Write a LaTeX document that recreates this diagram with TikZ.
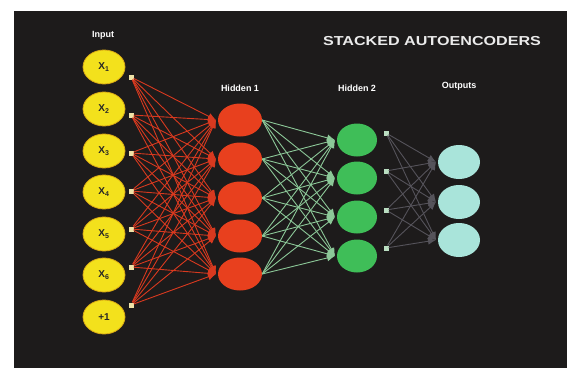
\documentclass[tikz,border=0pt]{standalone}
\usepackage{fontspec}
\setmainfont{Liberation Sans}
\usetikzlibrary{arrows.meta,shapes.geometric}
\definecolor{bg}{HTML}{1D1B1B}
\definecolor{inyellow}{HTML}{F3E11C}
\definecolor{inrim}{HTML}{D9A814}
\definecolor{hidred}{HTML}{E8401E}
\definecolor{hidgreen}{HTML}{3FBE58}
\definecolor{outcyan}{HTML}{A9E4DA}
\definecolor{portcream}{HTML}{EFE3A8}
\definecolor{wirered}{HTML}{D8391F}
\definecolor{wiregreen}{HTML}{8CC898}
\definecolor{wiregray}{HTML}{55535A}
\tikzset{
  unit/.style={ellipse, minimum width=42pt, minimum height=34pt, inner sep=0pt},
  inunit/.style={unit, fill=inyellow, draw=inrim, line width=0.8pt, text=black!85, font=\bfseries\fontsize{10}{10}\selectfont},
  h1unit/.style={unit, fill=hidred, minimum width=44pt, minimum height=33pt},
  h2unit/.style={unit, fill=hidgreen, minimum width=40pt, minimum height=33pt},
  outunit/.style={unit, fill=outcyan, minimum width=42pt, minimum height=34pt},
  port/.style={rectangle, fill=portcream, minimum size=5pt, inner sep=0pt},
  gport/.style={rectangle, fill=wiregreen!60!white, minimum size=5pt, inner sep=0pt},
  layerlabel/.style={text=white, font=\bfseries\fontsize{9}{9}\selectfont},
  wire/.style={line width=0.9pt, -{Latex[length=8pt,width=7pt]}},
}
\begin{document}
\begin{tikzpicture}[x=1pt,y=-1pt]
\useasboundingbox (0,0) rectangle (578,372);
\fill[white] (0,0) rectangle (578,372);
\fill[bg] (14,11) rectangle (567,368);

% title and layer captions
\node[text=white!92!black, font=\bfseries\fontsize{13}{13}\selectfont] (title) at (432,41) {\scalebox{1.24}[1]{STACKED AUTOENCODERS}};
\node[layerlabel] (linput) at (103,35) {Input};
\node[layerlabel] (lh1) at (240,88) {Hidden 1};
\node[layerlabel] (lh2) at (357,88) {Hidden 2};
\node[layerlabel] (lout) at (459,86) {Outputs};

% input layer with its output ports
\foreach \i/\y/\py in {1/67/77,2/109/115,3/151/153,4/192/191,5/234/229,6/275/267,7/317/305}{
  \ifnum\i=7
    \node[inunit] (i\i) at (104,\y) {+1};
  \else
    \node[inunit] (i\i) at (104,\y) {X\textsubscript{\i}};
  \fi
  \node[port] (p\i) at (131,\py) {};
}

% first hidden layer
\foreach \j/\y in {1/120,2/159,3/198,4/236,5/274}{
  \node[h1unit] (h\j) at (240,\y) {};
  \coordinate (ht\j) at (216,\y);
}

% second hidden layer with its ports
\foreach \k/\y/\py in {1/140/133,2/178/171,3/217/210,4/256/248}{
  \node[h2unit] (g\k) at (357,\y) {};
  \coordinate (gt\k) at (335,\y);
  \node[gport] (q\k) at (386,\py) {};
}

% output layer
\foreach \m/\y in {1/162,2/202,3/240}{
  \node[outunit] (o\m) at (459,\y) {};
  \coordinate (ot\m) at (436,\y);
}

% connections: input -> hidden 1
\foreach \i in {1,...,7}{
  \foreach \j in {1,...,5}{
    \draw[wire, wirered] (p\i) -- (ht\j);
  }
}
% connections: hidden 1 -> hidden 2
\foreach \j in {1,...,5}{
  \foreach \k in {1,...,4}{
    \draw[wire, wiregreen] (h\j.east) -- (gt\k);
  }
}
% connections: hidden 2 -> outputs
\foreach \k in {1,...,4}{
  \foreach \m in {1,...,3}{
    \draw[wire, wiregray] (q\k) -- (ot\m);
  }
}
\end{tikzpicture}
\end{document}
